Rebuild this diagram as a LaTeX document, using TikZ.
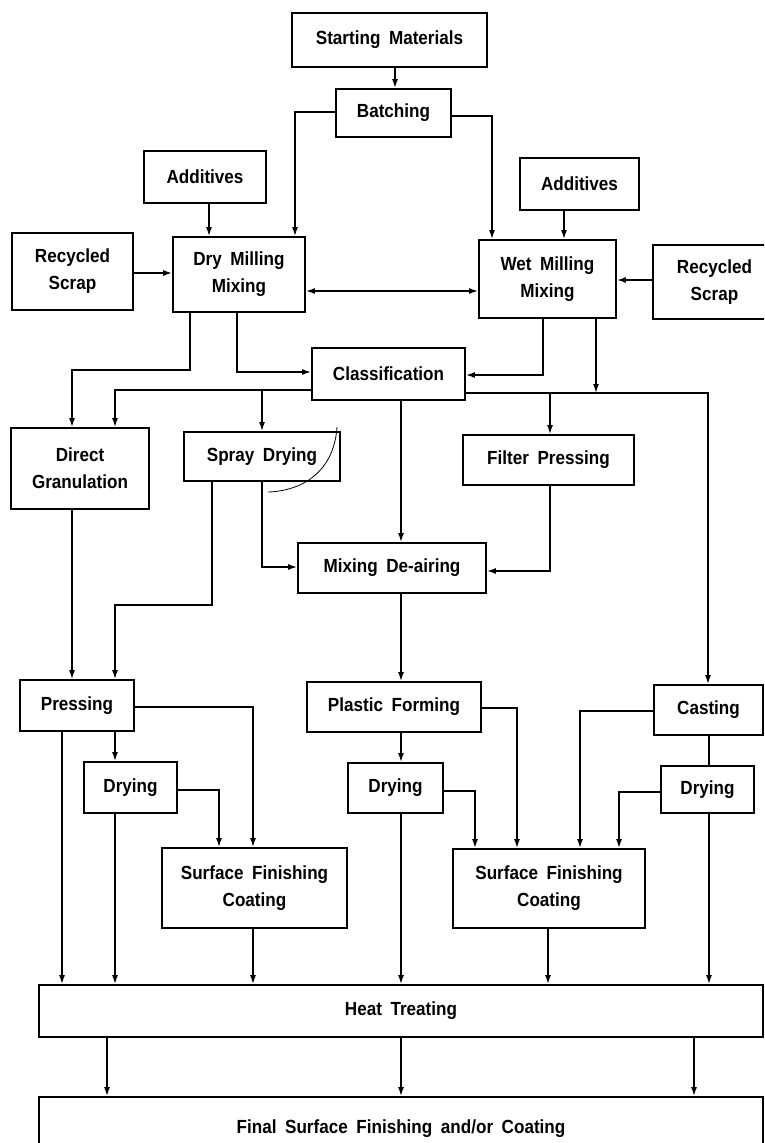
\documentclass[tikz,border=0pt]{standalone}
\usepackage{fontspec}
\setmainfont{Liberation Sans}[FakeStretch=0.9,WordSpace=1.8]
\usetikzlibrary{arrows.meta}
\tikzset{
  box/.style={draw, line width=1.8pt, inner sep=0pt, align=center,
    font=\fontsize{19}{27}\selectfont\bfseries},
  link/.style={line width=1.5pt},
  arr/.style={link, -{Latex[length=9pt,width=6pt]}},
  twoway/.style={link, {Latex[length=9pt,width=6pt]}-{Latex[length=9pt,width=6pt]}},
  stroke/.style={line width=0.8pt},
}
% process box given by its corners: name, x1, y1, x2, y2, label
\newcommand\procbox[6]{%
  \node[box, minimum width={#4-#2}, minimum height={#5-#3}]
    (#1) at ({(#2+#4)/2},{(#3+#5)/2}) {#6};}
\begin{document}
\begin{tikzpicture}[x=1pt,y=-1pt]
\clip (0,0) rectangle (764,1143);
\fill[white] (0,0) rectangle (764,1143);

% ---- boxes ----
\procbox{sm}{292}{13}{487}{67}{Starting Materials}
\procbox{bat}{336}{89}{451}{137}{Batching}
\procbox{addl}{144}{151}{266}{203}{Additives}
\procbox{addr}{520}{158}{639}{210}{Additives}
\procbox{rsl}{12}{233}{133}{310}{Recycled\\Scrap}
\procbox{dm}{173}{237}{305}{312}{Dry Milling\\Mixing}
\procbox{wm}{479}{240}{616}{318}{Wet Milling\\Mixing}
\procbox{rsr}{653}{245}{776}{319}{Recycled\\Scrap}
\procbox{cls}{312}{348}{465}{400}{Classification}
\procbox{dg}{11}{428}{149}{509}{Direct\\Granulation}
\procbox{sd}{184}{432}{340}{481}{Spray Drying}
\procbox{fp}{463}{435}{634}{485}{Filter Pressing}
\procbox{mda}{298}{543}{486}{593}{Mixing De-airing}
\procbox{pr}{20}{680}{134}{731}{Pressing}
\procbox{pf}{307}{682}{481}{732}{Plastic Forming}
\procbox{cast}{654}{685}{763}{735}{Casting}
\procbox{dr1}{84}{762}{177}{813}{Drying}
\procbox{dr2}{348}{763}{443}{813}{Drying}
\procbox{dr3}{661}{766}{754}{813}{Drying}
\procbox{sf1}{162}{848}{347}{928}{Surface Finishing\\Coating}
\procbox{sf2}{453}{849}{645}{928}{Surface Finishing\\Coating}
\procbox{ht}{39}{985}{763}{1037}{Heat Treating}
\procbox{fin}{39}{1097}{763}{1160}{Final Surface Finishing and/or Coating}

% ---- batching and milling ----
\draw[arr] (sm.south -| 395,0) -- (bat.north -| 395,0);
\draw[arr] (bat.west |- 0,112) -| (dm.north -| 295,0);
\draw[arr] (bat.east |- 0,116) -| (wm.north -| 492,0);
\draw[arr] (addl.south -| 209,0) -- (dm.north -| 209,0);
\draw[arr] (addr.south -| 564,0) -- (wm.north -| 564,0);
\draw[arr] (rsl.east |- 0,273) -- (dm.west |- 0,273);
\draw[twoway] (dm.east |- 0,291) -- (wm.west |- 0,291);
\draw[arr] (rsr.west |- 0,280) -- (wm.east |- 0,280);

% ---- to classification and the forming routes ----
\draw[arr] (dm.south -| 190,0) |- (72,370) -- (dg.north -| 72,0);
\draw[arr] (dm.south -| 237,0) |- (cls.west |- 0,372);
\draw[arr] (wm.south -| 543,0) |- (cls.east |- 0,375);
\coordinate (jwm) at (596,393);
\coordinate (jfp) at (550,393);
\coordinate (jsd) at (262,390);
\draw[arr] (wm.south -| 596,0) -- (jwm);
\draw[arr] (cls.east |- 0,393) -| (cast.north -| 708,0);
\draw[arr] (jfp) -- (fp.north -| 550,0);
\draw[arr] (cls.west |- 0,390) -| (dg.north -| 115,0);
\draw[arr] (jsd) -- (sd.north -| 262,0);
\draw[arr] (cls.south -| 401,0) -- (mda.north -| 401,0);
\draw[arr] (sd.south -| 262,0) |- (mda.west |- 0,567);
\draw[arr] (fp.south -| 550,0) |- (mda.east |- 0,571);
\draw[arr] (sd.south -| 212,0) |- (115,605) -- (pr.north -| 115,0);
\draw[arr] (dg.south -| 72,0) -- (pr.north -| 72,0);
\draw[arr] (mda.south -| 401,0) -- (pf.north -| 401,0);

% pencil stroke beside spray drying
\draw[stroke] (268,492) .. controls (302,491) and (334,472) .. (337,427);

% ---- pressing route ----
\draw[arr] (pr.east |- 0,707) -| (sf1.north -| 253,0);
\draw[arr] (pr.south -| 62,0) -- (ht.north -| 62,0);
\draw[arr] (pr.south -| 115,0) -- (dr1.north -| 115,0);
\draw[arr] (dr1.east |- 0,790) -| (sf1.north -| 219,0);
\draw[arr] (dr1.south -| 115,0) -- (ht.north -| 115,0);
\draw[arr] (sf1.south -| 253,0) -- (ht.north -| 253,0);

% ---- plastic forming route ----
\draw[arr] (pf.south -| 401,0) -- (dr2.north -| 401,0);
\draw[arr] (pf.east |- 0,708) -| (sf2.north -| 517,0);
\draw[arr] (dr2.east |- 0,791) -| (sf2.north -| 475,0);
\draw[arr] (dr2.south -| 401,0) -- (ht.north -| 401,0);

% ---- casting route ----
\draw[arr] (cast.west |- 0,711) -| (sf2.north -| 580,0);
\draw[link] (cast.south -| 709,0) -- (dr3.north -| 709,0);
\draw[arr] (dr3.west |- 0,792) -| (sf2.north -| 619,0);
\draw[arr] (dr3.south -| 709,0) -- (ht.north -| 709,0);
\draw[arr] (sf2.south -| 548,0) -- (ht.north -| 548,0);

% ---- heat treating to final finishing ----
\draw[arr] (ht.south -| 107,0) -- (fin.north -| 107,0);
\draw[arr] (ht.south -| 401,0) -- (fin.north -| 401,0);
\draw[arr] (ht.south -| 694,0) -- (fin.north -| 694,0);
\end{tikzpicture}
\end{document}
